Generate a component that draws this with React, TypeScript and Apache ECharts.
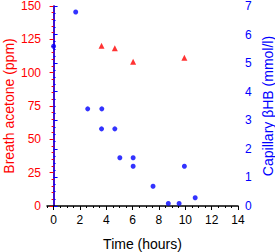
import React, { useEffect, useRef } from "react";
import * as echarts from "echarts";

const xMajorTicks = [0, 2, 4, 6, 8, 10, 12, 14];

const hbTimes = [0, 1.68, 2.59, 3.66, 3.64, 4.65, 5.03, 6.04, 6.04, 7.55, 8.71, 9.53, 9.93, 10.75];
const hbValues = [5.59, 6.79, 3.4, 3.4, 2.7, 2.7, 1.69, 1.69, 1.39, 0.69, 0.09, 0.09, 1.39, 0.29];

const acetoneTimes = [3.64, 4.65, 6.04, 9.93];
const acetoneValues = [120.2, 118.3, 108.2, 111.2];

const RED = "#ff0000";
const BLUE = "#0000ff";
const FONT = "Liberation Sans, Arial, sans-serif";

export default function App() {
  const ref = useRef<HTMLDivElement>(null);
  useEffect(() => {
    if (!ref.current) return;
    const chart = echarts.init(ref.current, null, { renderer: "svg" });
    const hbData = hbTimes.map((t, i) => [t, hbValues[i]]);
    const acData = acetoneTimes.map((t, i) => [t, acetoneValues[i]]);
    chart.setOption({
      animation: false,
      backgroundColor: "#ffffff",
      textStyle: { fontFamily: FONT },
      grid: { left: 47, right: 37, top: 6, bottom: 46, outerBoundsMode: "none" },
      xAxis: [
        {
          type: "value",
          min: -0.5,
          max: 14,
          interval: 0.5,
          name: "Time (hours)",
          nameLocation: "middle",
          nameGap: 31,
          nameMoveOverlap: false,
          nameTextStyle: { color: "#000", fontSize: 14, fontFamily: FONT },
          axisLine: { show: true, onZero: false, lineStyle: { color: "#000", width: 1.5 } },
          axisTick: { show: true, length: 2, lineStyle: { color: "#000", width: 1 } },
          axisLabel: {
            color: "#000",
            fontSize: 12,
            fontFamily: FONT,
            margin: 8,
            showMinLabel: true,
            showMaxLabel: true,
            formatter: (v: number) => (xMajorTicks.indexOf(v) >= 0 ? String(v) : ""),
          },
          splitLine: { show: false },
        },
        {
          type: "value",
          min: -0.5,
          max: 14,
          position: "bottom",
          axisLine: { show: false },
          axisTick: {
            show: true,
            length: 4,
            customValues: xMajorTicks,
            lineStyle: { color: "#000", width: 1 },
          },
          axisLabel: { show: false },
          splitLine: { show: false },
        },
      ],
      yAxis: [
        {
          type: "value",
          min: 0,
          max: 150,
          interval: 25,
          position: "left",
          name: "Breath acetone (ppm)",
          nameLocation: "middle",
          nameGap: 31,
          nameMoveOverlap: false,
          nameTextStyle: { color: RED, fontSize: 14, fontFamily: FONT },
          axisLine: { show: true, lineStyle: { color: RED, width: 1.5 } },
          axisTick: { show: true, length: 4, lineStyle: { color: RED, width: 1 } },
          minorTick: { show: true, splitNumber: 5, length: 2, lineStyle: { color: RED, width: 1 } },
          axisLabel: { color: RED, fontSize: 12, fontFamily: FONT, margin: 6 },
          splitLine: { show: false },
        },
        {
          type: "value",
          min: 0,
          max: 7,
          interval: 1,
          position: "right",
          name: "Capillary βHB (mmol/l)",
          nameLocation: "middle",
          nameGap: 23,
          nameMoveOverlap: false,
          nameTextStyle: { color: BLUE, fontSize: 14, fontFamily: FONT },
          axisLine: { show: true, lineStyle: { color: BLUE, width: 1.5 } },
          axisTick: { show: true, length: 4, lineStyle: { color: BLUE, width: 1 } },
          minorTick: { show: true, splitNumber: 4, length: 2, lineStyle: { color: BLUE, width: 1 } },
          axisLabel: { color: BLUE, fontSize: 12, fontFamily: FONT, margin: 7 },
          splitLine: { show: false },
        },
      ],
      series: [
        {
          name: "Capillary βHB",
          type: "scatter",
          xAxisIndex: 0,
          yAxisIndex: 1,
          symbol: "circle",
          symbolSize: 5,
          itemStyle: { color: BLUE },
          data: hbData,
        },
        {
          name: "Breath acetone",
          type: "scatter",
          xAxisIndex: 0,
          yAxisIndex: 0,
          symbol: "triangle",
          symbolSize: 6,
          itemStyle: { color: RED },
          data: acData,
        },
      ],
    });
    return () => chart.dispose();
  }, []);
  return (
    <div
      ref={ref}
      style={{ position: "fixed", left: 0, top: 0, width: 275, height: 252 }}
    />
  );
}
